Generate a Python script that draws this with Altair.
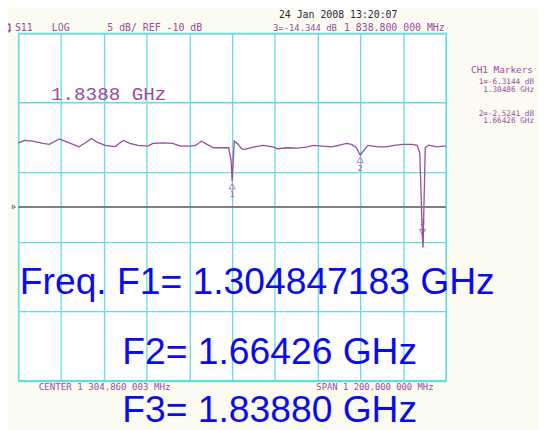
import altair as alt
import pandas as pd

# ---- data ----
freq_ghz = [0.7049, 0.7228, 0.7458, 0.7734, 0.7920, 0.8196, 0.8426, 0.8749, 0.8934, 0.9100,
            0.9255, 0.9487, 0.9764, 0.9993, 1.0179, 1.0408, 1.0685, 1.0823, 1.1100, 1.1376,
            1.1605, 1.1838, 1.2020, 1.2186, 1.2344, 1.2529, 1.2759, 1.2952, 1.3021, 1.30486,
            1.3109, 1.3220, 1.3311, 1.3403, 1.3679, 1.3911, 1.4188, 1.4326, 1.4603, 1.4879,
            1.5155, 1.5338, 1.5570, 1.5846, 1.6029, 1.6261, 1.6399, 1.6537, 1.66426, 1.6768,
            1.6859, 1.7136, 1.7368, 1.7598, 1.7826, 1.8103, 1.8241, 1.8316, 1.8357, 1.8388,
            1.8408, 1.8436, 1.8469, 1.8560, 1.8790, 1.8975, 1.9048]
s11_db = [-0.77, -0.43, -0.53, -0.86, -1.00, -0.21, -0.67, -1.34, -0.77, -0.15,
          -0.67, -1.14, -1.31, -0.43, -0.86, -1.14, -1.24, -0.86, -0.77, -0.86,
          -1.24, -1.24, -1.14, -0.53, -1.00, -1.48, -1.48, -1.48, -3.37, -6.31,
          -0.53, -1.00, -1.62, -1.71, -1.34, -1.14, -1.34, -1.62, -1.48, -1.52,
          -1.34, -1.14, -1.24, -1.34, -1.14, -0.86, -1.00, -1.48, -2.52, -1.71,
          -1.14, -1.34, -1.34, -1.14, -1.00, -1.00, -1.14, -2.19, -9.0, -14.34,
          -15.85, -9.0, -1.48, -1.10, -1.34, -1.24, -1.24]

marker_id = ["1", "2", "3"]
marker_freq = [1.30486, 1.66426, 1.8388]
marker_db = [-6.3144, -2.5241, -14.344]

ref_level = [-10]
x_ticks = [0.70486, 0.82486, 0.94486, 1.06486, 1.18486, 1.30486, 1.42486, 1.54486,
           1.66486, 1.78486, 1.90486]
y_ticks = [-35, -30, -25, -20, -15, -10, -5, 0, 5, 10, 15]

PURPLE = "#984c9f"
GRID = "#62dde3"
BLUE = "#0b0bf0"
MONO = "DejaVu Sans Mono"

trace = pd.DataFrame({"f": freq_ghz, "db": s11_db})
markers = pd.DataFrame({"id": marker_id, "f": marker_freq, "db": marker_db})

xs = alt.Scale(domain=[0.70486, 1.90486], nice=False, zero=False)
ys = alt.Scale(domain=[-35, 15], nice=False, zero=False)
xax = alt.Axis(values=x_ticks, grid=True, gridColor=GRID, gridWidth=1.3, gridOpacity=1,
               labels=False, ticks=False, domain=False, title=None)
yax = alt.Axis(values=y_ticks, grid=True, gridColor=GRID, gridWidth=1.3, gridOpacity=1,
               labels=False, ticks=False, domain=False, title=None)

line = alt.Chart(trace).mark_line(color=PURPLE, strokeWidth=1.3).encode(
    x=alt.X("f:Q", scale=xs, axis=xax),
    y=alt.Y("db:Q", scale=ys, axis=yax),
)

ref = alt.Chart(pd.DataFrame({"r": ref_level})).mark_rule(color="#7f7f7f", strokeWidth=2).encode(
    y=alt.Y("r:Q", scale=ys)
)

m_up = markers[markers["id"] != "3"]
m_dn = markers[markers["id"] == "3"]

tri_up = alt.Chart(m_up).mark_point(shape="triangle-up", size=40, filled=False,
                                     color=PURPLE, strokeWidth=1, yOffset=5).encode(
    x=alt.X("f:Q", scale=xs), y=alt.Y("db:Q", scale=ys))
lab_up = alt.Chart(m_up).mark_text(font=MONO, fontSize=8, color=PURPLE, dy=14).encode(
    x=alt.X("f:Q", scale=xs), y=alt.Y("db:Q", scale=ys), text="id:N")
tri_dn = alt.Chart(m_dn).mark_point(shape="triangle-down", size=40, filled=False,
                                     color=PURPLE, strokeWidth=1, yOffset=-5).encode(
    x=alt.X("f:Q", scale=xs), y=alt.Y("db:Q", scale=ys))
lab_dn = alt.Chart(m_dn).mark_text(font=MONO, fontSize=8, color=PURPLE, dy=-14).encode(
    x=alt.X("f:Q", scale=xs), y=alt.Y("db:Q", scale=ys), text="id:N")

one = pd.DataFrame({"k": [0]})


def label(txt, x, y, size=10, color=PURPLE, font=MONO, align="left", baseline="middle"):
    return alt.Chart(one).mark_text(text=txt, font=font, fontSize=size, color=color,
                                    align=align, baseline=baseline).encode(
        x=alt.value(x), y=alt.value(y))


texts = [
    label("24 Jan 2008   13:20:07", 264.5, -18.5, color="#2d2540"),
    label("1", -12, -5.5, size=9),
    label("S11", -3.5, -5.5),
    label("LOG", 34, -5.5),
    label("5 dB/ REF -10 dB", 90.3, -5.5),
    label("3=-14.344 dB", 258.5, -5.5, size=9),
    label("1 838.800 000 MHz", 330.5, -5.5),
    label("1.8388 GHz", 33.2, 61.2, size=19.5, font="Liberation Mono"),
    label("CH1 Markers", 459.5, 37.5, size=9.5),
    label("1=-6.3144 dB", 523.5, 49.5, size=7.8, align="right"),
    label("1.30486 GHz", 523.5, 57.5, size=7.8, align="right"),
    label("2=-2.5241 dB", 523.5, 81.5, size=7.8, align="right"),
    label("1.66426 GHz", 523.5, 89.5, size=7.8, align="right"),
    label("CENTER 1 304.860 003 MHz", 20.8, 359, size=9.25),
    label("SPAN 1 200.000 000 MHz", 302.5, 359, size=9),
    label("Freq. F1= 1.304847183 GHz", 1.5, 264.5, size=37.8, color=BLUE,
          font="Liberation Sans", baseline="alphabetic"),
    label("F2= 1.66426 GHz", 105.5, 335.5, size=37.8, color=BLUE,
          font="Liberation Sans", baseline="alphabetic"),
    label("F3= 1.83880 GHz", 105.5, 395, size=37.8, color=BLUE,
          font="Liberation Sans", baseline="alphabetic"),
]

box1 = alt.Chart(one).mark_rect(fill="transparent", stroke=PURPLE, strokeWidth=1).encode(
    x=alt.value(-15.5), x2=alt.value(-8.5), y=alt.value(-9.5), y2=alt.value(-1.5))

refmark = alt.Chart(one).mark_point(shape="triangle-right", size=14, filled=False,
                                    color="#333333", strokeWidth=1).encode(
    x=alt.value(-4.5), y=alt.value(176.25))

chart = alt.layer(line, ref, tri_up, lab_up, tri_dn, lab_dn, box1, refmark, *texts).properties(
    width=434, height=352.5,
    autosize=alt.AutoSizeParams(type="none"),
    padding={"left": 10.5, "top": 22.5, "right": 94.5, "bottom": 47},
    background="#fcfbf2",
).configure_view(fill="#ffffff", stroke=GRID, strokeWidth=1.3)

chart.save("out.html", embed_options={"renderer": "svg", "actions": False})
